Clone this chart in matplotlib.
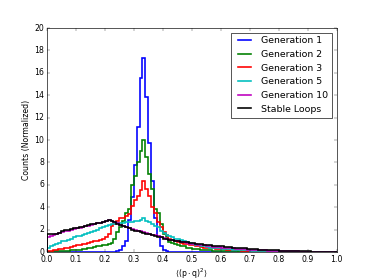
import matplotlib
matplotlib.use('Agg')
import matplotlib.pyplot as plt
from matplotlib.lines import Line2D
import numpy as np

# bin edges: 100 bins of width 0.01 on [0, 1]
edges = np.linspace(0.0, 1.0, 101)

gen1 = [0]*23 + [0.02, 0.05, 0.2, 0.5, 1.0, 2.9, 4.9,
                 7.8, 11.2, 15.5, 17.3, 13.8, 9.7, 6.3, 3.0, 1.4, 0.5,
                 0.2, 0.1, 0.03] + [0]*57

gen2 = [0.02, 0.03, 0.05, 0.05, 0.08, 0.1, 0.1, 0.12, 0.15, 0.18,
        0.2, 0.22, 0.25, 0.3, 0.35, 0.4, 0.45, 0.5, 0.55, 0.6,
        0.6, 0.7, 0.8, 1.2, 1.8, 2.2, 2.8, 3.5, 3.8, 6.0,
        6.8, 8.0, 9.0, 10.0, 8.5, 7.0, 5.6, 3.8, 3.5, 2.5,
        1.6, 1.3, 0.9, 0.8, 0.7, 0.6, 0.5, 0.5, 0.4, 0.35,
        0.3, 0.28, 0.25, 0.22, 0.2, 0.18, 0.15, 0.13, 0.12, 0.1,
        0.09, 0.08, 0.07, 0.06, 0.05, 0.05, 0.04, 0.04, 0.03, 0.03,
        0.02, 0.02, 0.02, 0.02, 0.01, 0.01, 0.01, 0.01, 0.01, 0.01,
        0, 0, 0, 0, 0, 0, 0, 0, 0, 0,
        0, 0, 0, 0, 0, 0, 0, 0, 0, 0]

gen3 = [0.1, 0.12, 0.15, 0.2, 0.25, 0.3, 0.35, 0.4, 0.45, 0.5,
        0.6, 0.65, 0.7, 0.75, 0.8, 0.9, 0.95, 1.0, 1.1, 1.2,
        1.3, 1.6, 2.3, 2.5, 2.8, 3.0, 3.0, 3.2, 3.4, 4.1,
        4.6, 5.0, 5.5, 6.3, 5.6, 5.0, 4.0, 3.5, 2.7, 2.2,
        1.8, 1.5, 1.2, 1.1, 1.0, 0.9, 0.8, 0.75, 0.7, 0.65,
        0.6, 0.55, 0.5, 0.45, 0.4, 0.4, 0.35, 0.33, 0.3, 0.28,
        0.26, 0.24, 0.22, 0.2, 0.18, 0.16, 0.15, 0.13, 0.12, 0.1,
        0.1, 0.09, 0.08, 0.07, 0.06, 0.05, 0.05, 0.04, 0.04, 0.03,
        0.03, 0.03, 0.02, 0.02, 0.02, 0.01, 0.01, 0.01, 0, 0,
        0, 0, 0, 0, 0, 0, 0, 0, 0, 0]

gen5 = [0.4, 0.5, 0.6, 0.7, 0.8, 0.95, 1.0, 1.1, 1.2, 1.3,
        1.4, 1.45, 1.5, 1.6, 1.7, 1.8, 1.9, 2.0, 2.1, 2.2,
        2.3, 2.4, 2.5, 2.5, 2.55, 2.6, 2.6, 2.65, 2.7, 2.7,
        2.75, 2.8, 2.9, 3.0, 2.8, 2.7, 2.5, 2.3, 2.2, 1.9,
        1.7, 1.5, 1.4, 1.3, 1.2, 1.15, 1.1, 1.0, 0.9, 0.8,
        0.7, 0.65, 0.6, 0.55, 0.5, 0.45, 0.4, 0.38, 0.35, 0.32,
        0.3, 0.28, 0.26, 0.24, 0.22, 0.2, 0.18, 0.17, 0.15, 0.14,
        0.13, 0.12, 0.11, 0.1, 0.09, 0.08, 0.07, 0.06, 0.05, 0.05,
        0.04, 0.04, 0.03, 0.03, 0.02, 0.02, 0.02, 0.01, 0.01, 0.01,
        0, 0, 0, 0, 0, 0, 0, 0, 0, 0]

gen10 = [1.3, 1.4, 1.5, 1.6, 1.7, 1.8, 1.85, 1.9, 2.0, 2.05,
         2.1, 2.15, 2.2, 2.3, 2.35, 2.4, 2.5, 2.55, 2.6, 2.7,
         2.8, 2.9, 2.8, 2.7, 2.55, 2.45, 2.35, 2.25, 2.15, 2.05,
         2.0, 1.9, 1.85, 1.8, 1.7, 1.65, 1.55, 1.5, 1.4, 1.3,
         1.25, 1.2, 1.1, 1.05, 1.0, 0.95, 0.9, 0.85, 0.8, 0.75,
         0.7, 0.68, 0.65, 0.6, 0.58, 0.55, 0.5, 0.48, 0.45, 0.42,
         0.4, 0.38, 0.36, 0.34, 0.32, 0.3, 0.28, 0.26, 0.24, 0.22,
         0.2, 0.19, 0.18, 0.17, 0.16, 0.14, 0.13, 0.12, 0.11, 0.1,
         0.09, 0.08, 0.07, 0.07, 0.06, 0.05, 0.05, 0.04, 0.04, 0.03,
         0.03, 0.02, 0.02, 0, 0, 0, 0, 0, 0, 0]

stable = [1.65, 1.65, 1.65, 1.65, 1.7, 1.9, 1.95, 2.0, 2.05, 2.1,
          2.15, 2.2, 2.2, 2.3, 2.4, 2.5, 2.5, 2.55, 2.6, 2.7,
          2.8, 2.9, 2.75, 2.65, 2.5, 2.4, 2.3, 2.2, 2.1, 2.0,
          1.9, 1.85, 1.8, 1.7, 1.65, 1.6, 1.5, 1.4, 1.35, 1.3,
          1.2, 1.15, 1.1, 1.05, 1.0, 0.95, 0.9, 0.88, 0.85, 0.82,
          0.8, 0.75, 0.72, 0.7, 0.66, 0.62, 0.6, 0.57, 0.55, 0.52,
          0.5, 0.47, 0.45, 0.42, 0.4, 0.38, 0.36, 0.34, 0.32, 0.3,
          0.28, 0.26, 0.24, 0.22, 0.2, 0.19, 0.18, 0.16, 0.15, 0.14,
          0.12, 0.11, 0.1, 0.09, 0.08, 0.08, 0.07, 0.06, 0.06, 0.05,
          0.05, 0.04, 0.04, 0.03, 0.03, 0.03, 0.02, 0.02, 0.02, 0.02]

series = [(gen1, 'b', 'Generation 1'),
          (gen2, 'g', 'Generation 2'),
          (gen3, 'r', 'Generation 3'),
          (gen5, 'c', 'Generation 5'),
          (gen10, 'm', 'Generation 10'),
          (stable, 'k', 'Stable Loops')]

plt.style.use('classic')
plt.rcParams['mathtext.fontset'] = 'dejavusans'

fig = plt.figure(figsize=(8, 5.99))
ax = fig.add_subplot(111)
centers = 0.5 * (edges[:-1] + edges[1:])
handles = []
for vals, col, lab in series:
    ax.hist(centers, bins=edges, weights=vals, histtype='step',
            color=col, linewidth=2.5)
    # line-style legend entries, like the old pylab default
    handles.append(Line2D([], [], color=col, linewidth=2.5, label=lab))

ax.set_xlim(0, 1)
ax.set_ylim(0, 20)
ax.set_xticks(np.arange(0, 1.01, 0.1))
ax.set_yticks(np.arange(0, 21, 2))
ax.set_xlabel(r'$\langle(\mathrm{p}\cdot\mathrm{q})^2\rangle$')
ax.set_ylabel('Counts (Normalized)')
ax.legend(handles=handles, loc='upper right')

fig.savefig('out.png', dpi=46.75)
